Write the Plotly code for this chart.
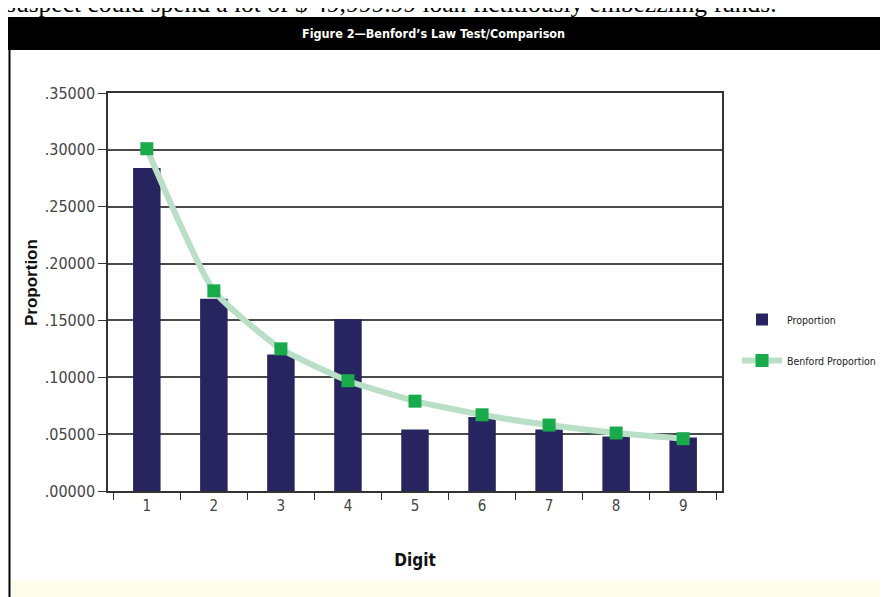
import plotly.graph_objects as go

digits = ["1", "2", "3", "4", "5", "6", "7", "8", "9"]
proportion = [0.284, 0.169, 0.120, 0.151, 0.054, 0.065, 0.054, 0.048, 0.047]
benford = [0.301, 0.176, 0.125, 0.097, 0.079, 0.067, 0.058, 0.051, 0.046]
ytick_vals = [0.0, 0.05, 0.10, 0.15, 0.20, 0.25, 0.30, 0.35]
ytick_text = [".00000", ".05000", ".10000", ".15000", ".20000", ".25000", ".30000", ".35000"]

# page has an 8px body margin; figure drawn at page offset (8, 8)
OFF = 8
W, H = 888 - OFF, 597 - OFF
L, R, T, B = 108, 722, 93, 491          # plot area in page pixels
def px(x):
    return (x - L) / (R - L)
def py(y):
    return (B - y) / (B - T)

COND = "DejaVu Sans Condensed, DejaVu Sans, sans-serif"

fig = go.Figure()
fig.add_trace(go.Bar(
    x=digits, y=proportion, name="Proportion", legendgroup="a",
    marker=dict(color="#27245f", line=dict(width=0)),
    width=0.41,
))
fig.add_trace(go.Scatter(
    x=digits, y=benford, name="Benford Proportion", mode="lines+markers", legendgroup="b",
    line=dict(color="#b9dfc6", width=6, shape="spline", smoothing=0.5),
    marker=dict(symbol="square", size=13, color="#19aa4b"),
))

fig.update_layout(
    width=W, height=H,
    margin=dict(l=L - OFF, r=W - (R - OFF), t=T - OFF, b=H - (B - OFF), pad=0, autoexpand=False),
    paper_bgcolor="white", plot_bgcolor="white",
    showlegend=True,
    legend=dict(x=px(737), y=py(305), xanchor="left", yanchor="top",
                font=dict(family=COND, size=10.5, color="#222"),
                tracegroupgap=22, itemwidth=40, bgcolor="rgba(0,0,0,0)"),
    xaxis=dict(
        type="category", showgrid=False, showline=True, linecolor="#333", linewidth=1.5,
        mirror=True, ticks="outside", tickson="boundaries", ticklen=7, tickcolor="#333",
        tickfont=dict(family=COND, size=15, color="#444"), automargin=False,
        title=dict(text="<b>Digit</b>", font=dict(family=COND, size=17, color="#111"), standoff=40),
    ),
    yaxis=dict(
        range=[0, 0.35], tickvals=ytick_vals, ticktext=ytick_text,
        showgrid=True, gridcolor="#4a4a4a", gridwidth=1.5,
        showline=True, linecolor="#333", linewidth=1.5, mirror=True,
        ticks="outside", ticklen=8, tickcolor="#333", automargin=False,
        tickfont=dict(family=COND, size=16, color="#444"),
        zeroline=False,
    ),
)

shapes = [
    dict(type="rect", xref="paper", yref="paper", x0=px(8), x1=px(900), y0=py(50), y1=py(17),
         fillcolor="black", line=dict(width=0), layer="below"),
    dict(type="line", xref="paper", yref="paper", x0=px(9.5), x1=px(9.5), y0=py(600), y1=py(50),
         line=dict(color="black", width=2)),
    dict(type="rect", xref="paper", yref="paper", x0=px(11), x1=px(900), y0=py(600), y1=py(580),
         fillcolor="#fffcec", line=dict(width=0), layer="below"),
]
fig.update_layout(shapes=shapes)

fig.add_annotation(xref="paper", yref="paper", x=px(31), y=py(283), xanchor="center", yanchor="middle",
                   text="<b>Proportion</b>", textangle=-90, showarrow=False,
                   font=dict(family="Liberation Sans, Arial, sans-serif", size=17, color="#111"))
fig.add_annotation(xref="paper", yref="paper", x=px(433), y=py(33), xanchor="center", yanchor="middle",
                   text="<b>Figure 2\u2014Benford\u2019s Law Test/Comparison</b>", showarrow=False,
                   font=dict(family=COND, size=12.5, color="white"))
fig.add_annotation(xref="paper", yref="paper", x=px(4), y=py(3.5), xanchor="left", yanchor="middle",
                   text="suspect could spend a lot of $ 49,999.99 loan fictitiously embezzling funds.",
                   showarrow=False, font=dict(family="Liberation Serif, Times New Roman, serif", size=25.5, color="black"))

fig.write_html("out.html")
